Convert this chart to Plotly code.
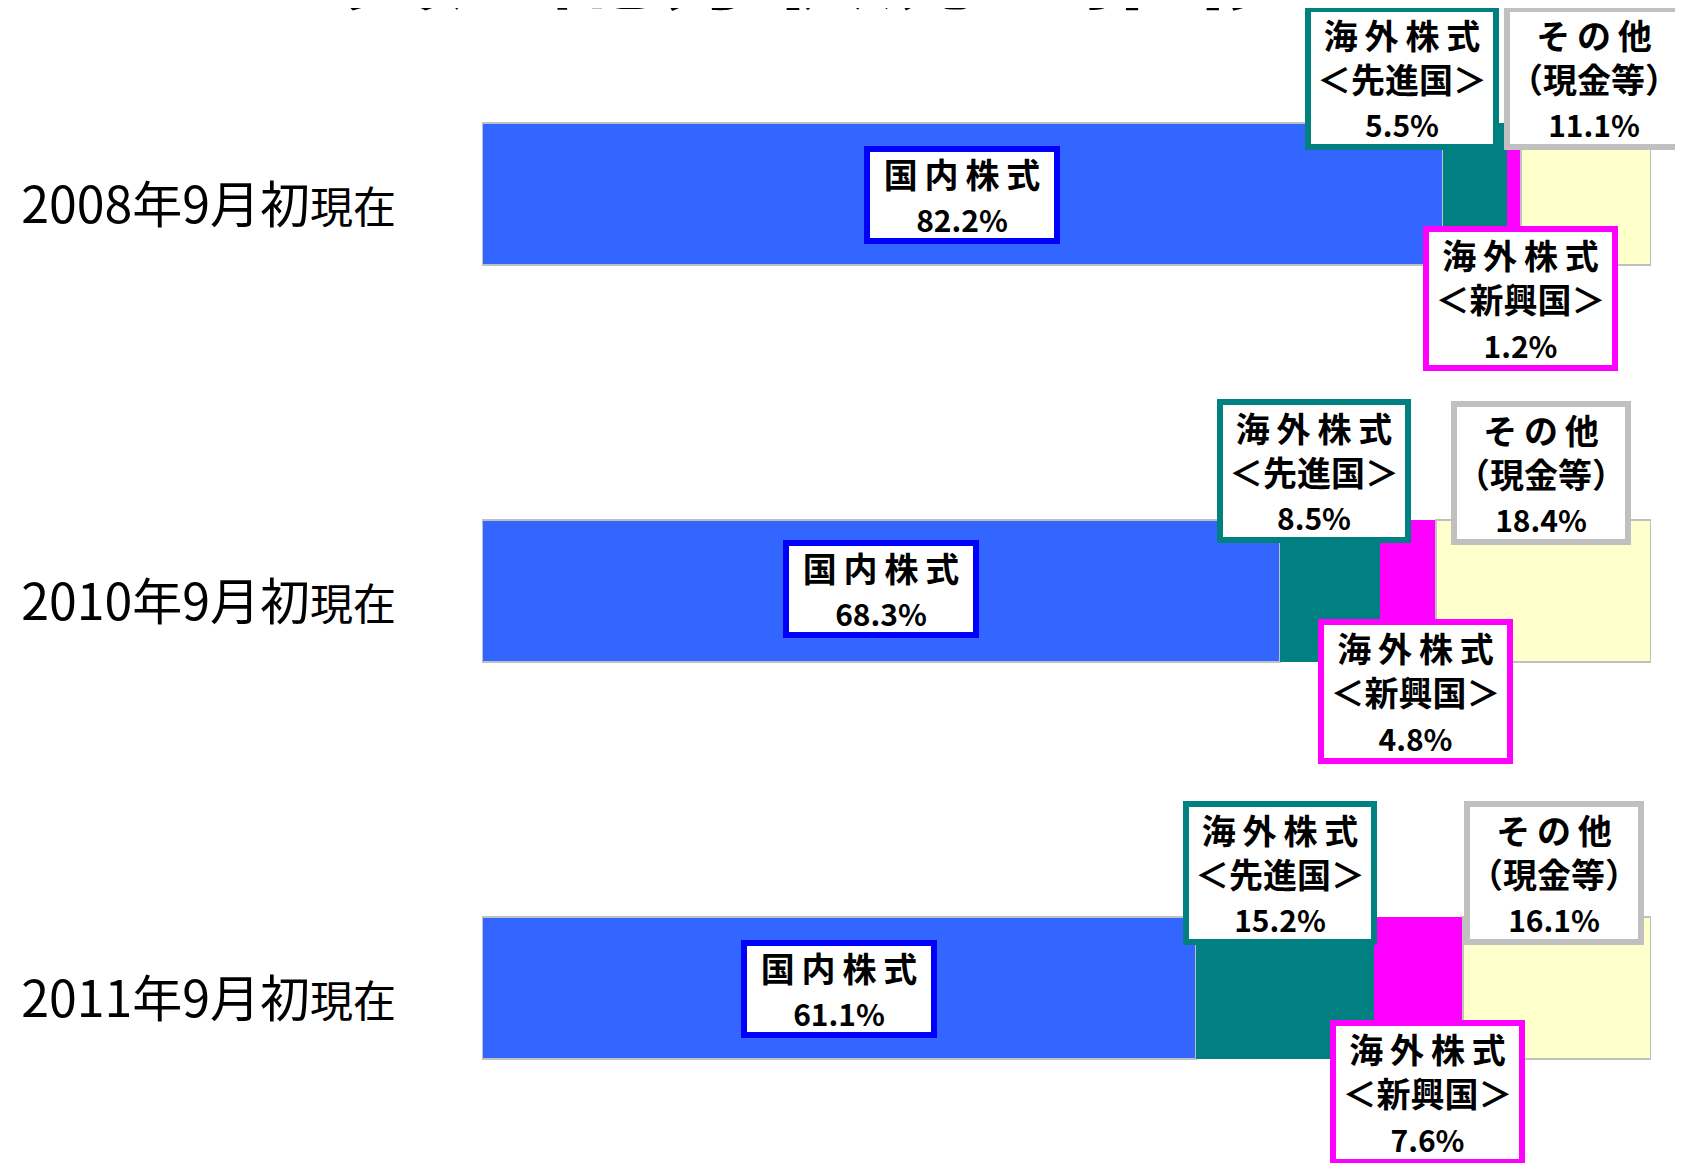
import plotly.graph_objects as go

# ---- data ----
periods = ["2008年9月初", "2010年9月初", "2011年9月初"]
period_suffix = "現在"
series_names = ["国内株式", "海外株式\n＜先進国＞", "海外株式\n＜新興国＞", "その他\n（現金等）"]
domestic = [82.2, 68.3, 61.1]
foreign_developed = [5.5, 8.5, 15.2]
foreign_emerging = [1.2, 4.8, 7.6]
other_cash = [11.1, 18.4, 16.1]
title_text = "資産配分状況の推移"

series_values = [domestic, foreign_developed, foreign_emerging, other_cash]

# ---- styles ----
fill_colors = ["#3366FF", "#008080", "#FF00FF", "#FFFFCC"]
line_colors = ["#C0C0C0", "#008080", "#FF00FF", "#C0C0C0"]
line_widths = [2, 0, 0, 2]
box_border = ["#0000FF", "#008080", "#FF00FF", "#C0C0C0"]
box_w = [184, 182, 183, 168]
box_h = [86, 132, 133, 132]
# label pixel offsets (xshift, yshift) per series, per period
label_shift = [
    [(0, -1), (0, 2), (0, -1)],
    [(-73, 116), (-16, 120), (-5, 115)],
    [(6, -104), (8, -100), (9, -104)],
    [(8, 116), (-2, 118), (-3, 115)],
]

FONT = "Noto Sans CJK JP"
PAGE_OFFSET = 8  # browser body margin
FIRST_CENTER = 194
SPACING = 397

ticktext = [f"{p}<span style='font-size:43px'>{period_suffix}</span>" for p in periods]

fig = go.Figure()
for i, (name, vals) in enumerate(zip(series_names, series_values)):
    fig.add_trace(go.Bar(
        y=periods, x=vals, orientation="h", name=name.replace("\n", ""),
        width=142 / SPACING,
        marker=dict(color=fill_colors[i], line=dict(color=line_colors[i], width=line_widths[i])),
        hoverinfo="skip",
    ))

def fmt_line(s):
    if "＜" in s or "（" in s:
        return s
    return "\u2009".join(list(s))

annotations = []
for j, p in enumerate(periods):
    cum = 0.0
    for i, vals in enumerate(series_values):
        v = vals[j]
        center = cum + v / 2
        cum += v
        lines = [fmt_line(l) for l in series_names[i].split("\n")]
        lines.append(f"<span style='font-size:30px'>{v:.1f}%</span>")
        xs, ys = label_shift[i][j]
        annotations.append(dict(
            x=center, y=p, xref="x", yref="y", xanchor="center", yanchor="middle",
            xshift=xs, yshift=ys, text="<br>".join(lines), showarrow=False,
            font=dict(family=FONT, size=34, color="#000000", weight=600),
            bgcolor="#FFFFFF", bordercolor=box_border[i], borderwidth=6, borderpad=0,
            width=box_w[i], height=box_h[i], align="center", valign="middle",
        ))

left = 482 - PAGE_OFFSET
annotations.append(dict(
    x=(816 - PAGE_OFFSET - left) / 1169, y=1, xref="paper", yref="paper",
    xanchor="center", yanchor="middle",
    yshift=54, text=title_text, showarrow=False,
    font=dict(family=FONT, size=106, color="#000000", weight="bold"),
))

y0 = (PAGE_OFFSET - FIRST_CENTER) / SPACING
y1 = (1163 + PAGE_OFFSET - FIRST_CENTER) / SPACING

fig.update_layout(
    width=1683, height=1163,
    margin=dict(l=left, r=1683 - left - 1169, t=0, b=0, pad=0),
    barmode="stack", bargap=0,
    showlegend=False,
    plot_bgcolor="#FFFFFF", paper_bgcolor="#FFFFFF",
    annotations=annotations,
    xaxis=dict(range=[0, 100], visible=False, fixedrange=True),
    yaxis=dict(
        type="category", categoryorder="array", categoryarray=periods,
        range=[y1, y0], tickmode="array", tickvals=periods, ticktext=ticktext,
        showgrid=False, showline=False, zeroline=False, ticks="",
        tickfont=dict(family=FONT, size=50, color="#000000"),
        ticklabelstandoff=85, ticklabelshift=-11, automargin=False,
    ),
)

fig.write_html("out.html")
